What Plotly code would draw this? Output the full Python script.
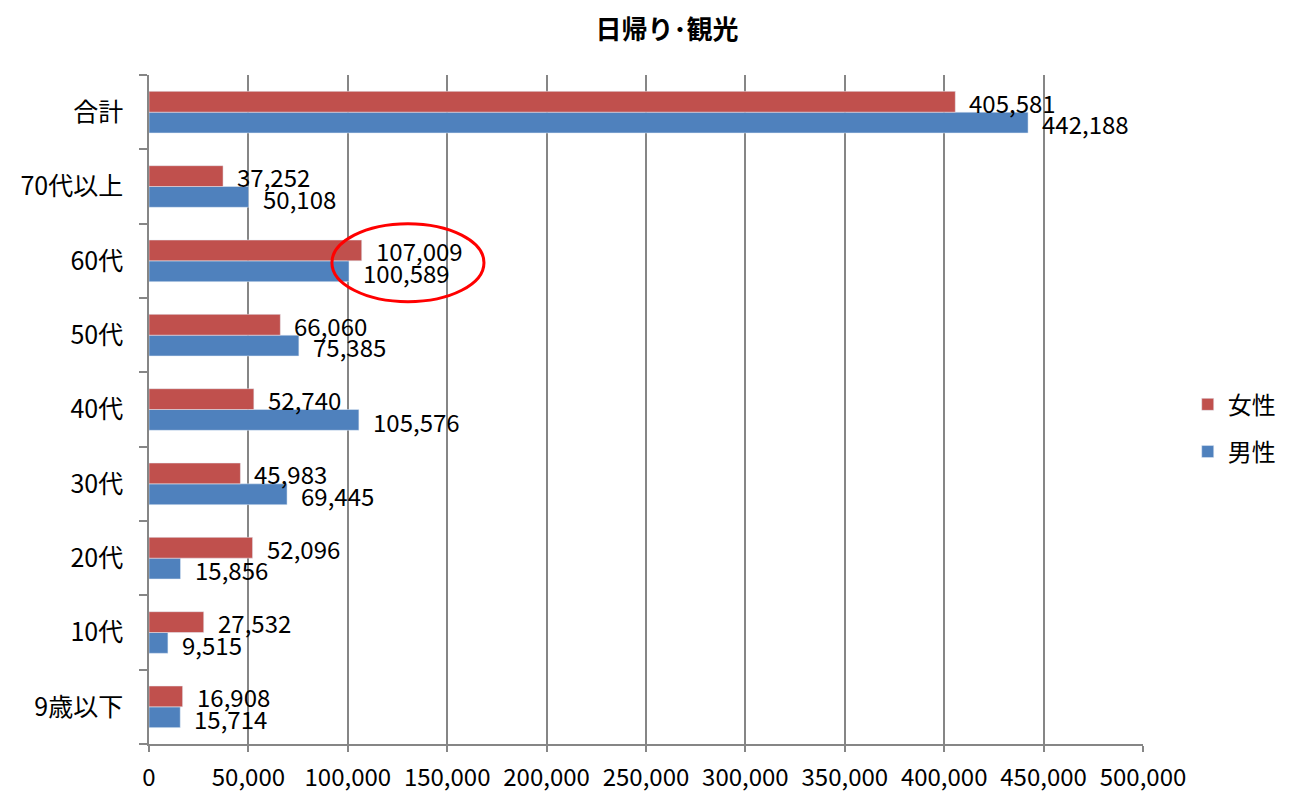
import plotly.graph_objects as go

categories = ["9歳以下", "10代", "20代", "30代", "40代", "50代", "60代", "70代以上", "合計"]
female = [16908, 27532, 52096, 45983, 52740, 66060, 107009, 37252, 405581]
male = [15714, 9515, 15856, 69445, 105576, 75385, 100589, 50108, 442188]
x_ticks = [0, 50000, 100000, 150000, 200000, 250000, 300000, 350000, 400000, 450000, 500000]
x_ticktext = [f"{v:,}" for v in x_ticks]

FONT = "Noto Sans CJK JP"
RED = "#C0504D"
BLUE = "#4F81BD"
GRID = "#868686"

fig = go.Figure()
fig.add_trace(go.Bar(y=categories, x=male, name="男性", orientation="h",
                     marker=dict(color=BLUE), legendgroup="m", legendrank=2))
fig.add_trace(go.Bar(y=categories, x=female, name="女性", orientation="h",
                     marker=dict(color=RED), legendgroup="f", legendrank=1))

# data labels
annotations = []
for i, c in enumerate(categories):
    for val, off in ((female[i], 0.135), (male[i], -0.155)):
        annotations.append(dict(x=val, y=i + off, xref="x", yref="y", text=f"{val:,}",
                                showarrow=False, xanchor="left", yanchor="middle", xshift=12,
                                font=dict(family=FONT, size=24, color="#000000")))

fig.update_layout(
    width=1310, height=797,
    margin=dict(l=135, r=175, t=67, b=52),
    paper_bgcolor="white", plot_bgcolor="white",
    barmode="group", bargap=0.44, bargroupgap=0,
    title=dict(text="<b>日帰り･観光</b>", x=0.503, xanchor="center", xref="container",
               y=0.972, yanchor="middle", yref="container",
               font=dict(family=FONT, size=26, color="#000000")),
    font=dict(family=FONT, color="#000000"),
    legend=dict(x=1.045, y=0.472, xanchor="left", yanchor="middle",
                traceorder="grouped", tracegroupgap=13,
                font=dict(family=FONT, size=24, color="#000000"),
                itemwidth=30),
    annotations=annotations,
    shapes=[dict(type="circle", xref="x", yref="y", x0=92000, x1=168500, y0=5.45, y1=6.5,
                 line=dict(color="#FF0000", width=3), fillcolor="rgba(0,0,0,0)")],
    xaxis=dict(range=[0, 500000], tickvals=x_ticks, ticktext=x_ticktext,
               showgrid=True, gridcolor=GRID, gridwidth=1.5,
               showline=True, linecolor=GRID, linewidth=1.5,
               ticks="outside", ticklen=6, tickcolor=GRID, tickwidth=1.5,
               ticklabelstandoff=5,
               tickfont=dict(family=FONT, size=24, color="#000000"), zeroline=False),
    yaxis=dict(categoryorder="array", categoryarray=categories, range=[-0.5, 8.5],
               showline=True, linecolor=GRID, linewidth=1.5,
               ticks="outside", ticklen=8, tickcolor=GRID, tickwidth=1.5,
               tickson="boundaries", showgrid=False, ticklabelstandoff=19,
               tickfont=dict(family=FONT, size=25, color="#000000")),
)

fig.write_html("out.html")
